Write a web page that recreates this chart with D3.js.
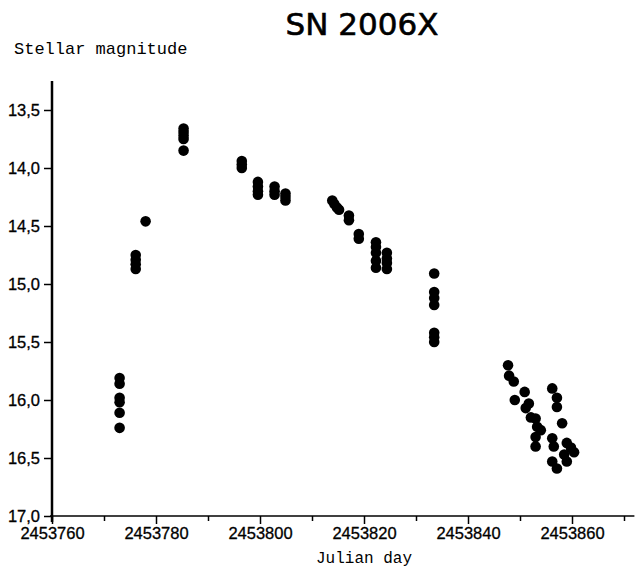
<!DOCTYPE html>
<html>
<head>
<meta charset="utf-8">
<script src="https://cdn.jsdelivr.net/npm/d3@7"></script>
<style>
  html, body { margin: 0; padding: 0; background: #fff; }
  svg { display: block; }
</style>
</head>
<body>
<svg id="chart" width="635" height="570"></svg>
<script>
// ---- data ----
const chartTitle = "SN 2006X";
const yLabel = "Stellar magnitude";
const xLabel = "Julian day";

const julianDay = [
  2453773.0, 2453773.0, 2453773.0, 2453773.0, 2453773.0, 2453773.0,
  2453776.1, 2453776.1, 2453776.1, 2453776.1,
  2453778.0,
  2453785.3, 2453785.3, 2453785.3, 2453785.3, 2453785.3,
  2453796.5, 2453796.5, 2453796.5,
  2453799.6, 2453799.6, 2453799.6, 2453799.6,
  2453802.8, 2453802.8, 2453802.8,
  2453804.9, 2453804.9, 2453804.9,
  2453813.9, 2453814.3, 2453814.8, 2453815.2,
  2453817.1, 2453817.1,
  2453819.0, 2453819.0,
  2453822.3, 2453822.3, 2453822.3, 2453822.3, 2453822.3,
  2453824.4, 2453824.4, 2453824.4, 2453824.4,
  2453833.5, 2453833.5, 2453833.5, 2453833.5, 2453833.5, 2453833.5, 2453833.5,
  2453847.7, 2453847.9, 2453848.8, 2453850.9, 2453849.0, 2453851.7,
  2453851.1, 2453852.1, 2453853.0, 2453853.3, 2453854.0, 2453853.0, 2453853.0,
  2453856.2, 2453857.1, 2453857.1, 2453858.1, 2453856.2, 2453856.5,
  2453859.0, 2453859.8, 2453858.5, 2453860.4, 2453859.0, 2453856.2, 2453857.1
];
const magnitude = [
  15.81, 15.86, 15.98, 16.02, 16.11, 16.24,
  14.75, 14.79, 14.83, 14.87,
  14.46,
  13.66, 13.69, 13.72, 13.75, 13.85,
  13.94, 13.97, 14.00,
  14.12, 14.16, 14.20, 14.23,
  14.16, 14.20, 14.23,
  14.22, 14.25, 14.28,
  14.28, 14.31, 14.34, 14.36,
  14.41, 14.45,
  14.57, 14.61,
  14.64, 14.68, 14.73, 14.80, 14.86,
  14.73, 14.78, 14.82, 14.87,
  14.91, 15.07, 15.12, 15.18, 15.42, 15.46, 15.50,
  15.70, 15.79, 15.84, 15.93, 16.00, 16.03,
  16.07, 16.15, 16.16, 16.23, 16.26, 16.32, 16.40,
  15.90, 15.98, 16.06, 16.20, 16.33, 16.40,
  16.37, 16.41, 16.47, 16.45, 16.53, 16.53, 16.59
];

const yTicks = [13.5, 14.0, 14.5, 15.0, 15.5, 16.0, 16.5, 17.0];
const xMajorTicks = [2453760, 2453780, 2453800, 2453820, 2453840, 2453860];
const xMinorTicks = [2453770, 2453790, 2453810, 2453830, 2453850, 2453870];
const xDomain = [2453760, 2453872];
const yDomain = [13.25, 17.0];

// ---- drawing ----
const svg = d3.select("#chart");
const x = d3.scaleLinear().domain(xDomain).range([52, 634.4]);
const y = d3.scaleLinear().domain(yDomain).range([81, 516]);

const fmt = v => d3.format(".1f")(v).replace(".", ",");

// title
svg.append("text")
  .attr("x", 362).attr("y", 35)
  .attr("text-anchor", "middle")
  .attr("font-family", "DejaVu Sans, sans-serif")
  .attr("font-size", 31)
  .attr("fill", "#000")
  .attr("stroke", "#000").attr("stroke-width", 0.6)
  .text(chartTitle);

// y label
svg.append("text")
  .attr("x", 14).attr("y", 54)
  .attr("font-family", "Liberation Mono, monospace")
  .attr("font-size", 17)
  .attr("fill", "#000")
  .text(yLabel);

// x label
svg.append("text")
  .attr("x", 364).attr("y", 563)
  .attr("text-anchor", "middle")
  .attr("font-family", "Liberation Mono, monospace")
  .attr("font-size", 16)
  .attr("fill", "#000")
  .text(xLabel);

// y axis
const yAxis = d3.axisLeft(y).tickValues(yTicks).tickFormat(fmt).tickSize(8).tickSizeOuter(0).tickPadding(4);
const gy = svg.append("g").attr("transform", `translate(${x(xDomain[0])},0)`).call(yAxis);
gy.select(".domain").remove();
gy.selectAll(".tick line").attr("stroke", "#000").attr("stroke-width", 1.5);
gy.selectAll(".tick text")
  .attr("font-family", "Liberation Sans, Arial, sans-serif")
  .attr("font-size", 16.5)
  .attr("fill", "#000")
  .attr("stroke", "#000").attr("stroke-width", 0.3);

// x axis (major ticks with labels)
const xAxis = d3.axisBottom(x).tickValues(xMajorTicks).tickFormat(d3.format("d")).tickSize(8).tickSizeOuter(0).tickPadding(3);
const gx = svg.append("g").attr("transform", `translate(0,${y(yDomain[1])})`).call(xAxis);
gx.select(".domain").remove();
gx.selectAll(".tick line").attr("stroke", "#000").attr("stroke-width", 1.5);
gx.selectAll(".tick text")
  .attr("font-family", "Liberation Sans, Arial, sans-serif")
  .attr("font-size", 16.5)
  .attr("fill", "#000")
  .attr("stroke", "#000").attr("stroke-width", 0.3);

// x axis minor ticks
const xAxisMinor = d3.axisBottom(x).tickValues(xMinorTicks).tickFormat("").tickSize(5).tickSizeOuter(0);
const gxm = svg.append("g").attr("transform", `translate(0,${y(yDomain[1])})`).call(xAxisMinor);
gxm.select(".domain").remove();
gxm.selectAll(".tick line").attr("stroke", "#000").attr("stroke-width", 1.5);

// axis lines
svg.append("line")
  .attr("x1", x(xDomain[0])).attr("x2", x(xDomain[0]))
  .attr("y1", y(yDomain[0])).attr("y2", y(yDomain[1]) + 6)
  .attr("stroke", "#000").attr("stroke-width", 2.5);
svg.append("line")
  .attr("x1", x(xDomain[0]) - 2).attr("x2", x(xDomain[1]))
  .attr("y1", y(yDomain[1])).attr("y2", y(yDomain[1]))
  .attr("stroke", "#000").attr("stroke-width", 1.5);

// points
const pts = julianDay.map((d, i) => ({ d, m: magnitude[i] }));
svg.append("g").selectAll("circle")
  .data(pts)
  .join("circle")
  .attr("cx", p => x(p.d))
  .attr("cy", p => y(p.m))
  .attr("r", 5.3)
  .attr("fill", "#000");
</script>
</body>
</html>
